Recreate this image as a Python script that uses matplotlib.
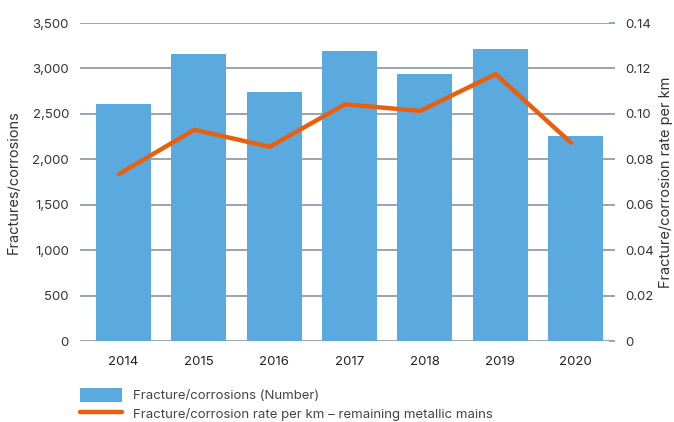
import matplotlib.pyplot as plt
from matplotlib.ticker import FuncFormatter

plt.rcParams['font.family'] = ['Inter', 'DejaVu Sans']

years = ['2014', '2015', '2016', '2017', '2018', '2019', '2020']
fractures = [2610, 3160, 2740, 3190, 2940, 3210, 2260]
rate_per_km = [0.0735, 0.093, 0.0855, 0.1042, 0.1013, 0.1175, 0.0873]

bar_color = '#5BAADF'
line_color = '#E8600F'
grid_color = '#8894A6'
text_color = '#333333'

fig = plt.figure(figsize=(6.74, 4.22), dpi=100)
ax = fig.add_axes([80 / 674, 81 / 422, 529 / 674, 318 / 422])
ax2 = ax.twinx()

x = list(range(len(years)))
ax.bar(x, fractures, width=0.73, color=bar_color, zorder=2,
       label='Fracture/corrosions (Number)')
# the line in the original sits a touch left of the bar centres
ax2.plot([i - 0.06 for i in x], rate_per_km, color=line_color, lw=3.2,
         solid_capstyle='round',
         label='Fracture/corrosion rate per km – remaining metallic mains')

ax.set_xlim(-0.577, 6.445)
ax.set_ylim(0, 3500)
ax2.set_ylim(0, 0.14)
ax.set_yticks(range(0, 3501, 500))
ax2.set_yticks([0, 0.02, 0.04, 0.06, 0.08, 0.10, 0.12, 0.14])
ax.yaxis.set_major_formatter(FuncFormatter(lambda v, p: f'{int(v):,}'))
ax2.yaxis.set_major_formatter(FuncFormatter(lambda v, p: '0' if v == 0 else f'{v:.2f}'))
ax.set_xticks(x)
ax.set_xticklabels(years)

ax.grid(axis='y', color=grid_color, lw=1.2, zorder=0)
ax.set_axisbelow(True)
for a in (ax, ax2):
    for s in a.spines.values():
        s.set_visible(False)
ax.tick_params(axis='y', length=0, pad=8, labelsize=9.5, labelcolor=text_color)
ax.tick_params(axis='x', length=0, pad=11, labelsize=9.5, labelcolor='#222222')
ax2.tick_params(axis='y', length=4, color=grid_color, width=1.2, pad=8,
                labelsize=9.5, labelcolor=text_color)

ax.set_ylabel('Fractures/corrosions', fontsize=10.5, color=text_color, labelpad=8)
ax2.set_ylabel('Fracture/corrosion rate per km', fontsize=10.5, color=text_color,
               labelpad=3)

h1, l1 = ax.get_legend_handles_labels()
h2, l2 = ax2.get_legend_handles_labels()
fig.legend(h1 + h2, l1 + l2, loc='upper left', bbox_to_anchor=(68 / 674, 1 - 376 / 422),
           frameon=False, fontsize=9.5, handlelength=3.2, handleheight=1.3,
           labelcolor='#444444', labelspacing=0.3)

plt.savefig('out.png', dpi=100)
